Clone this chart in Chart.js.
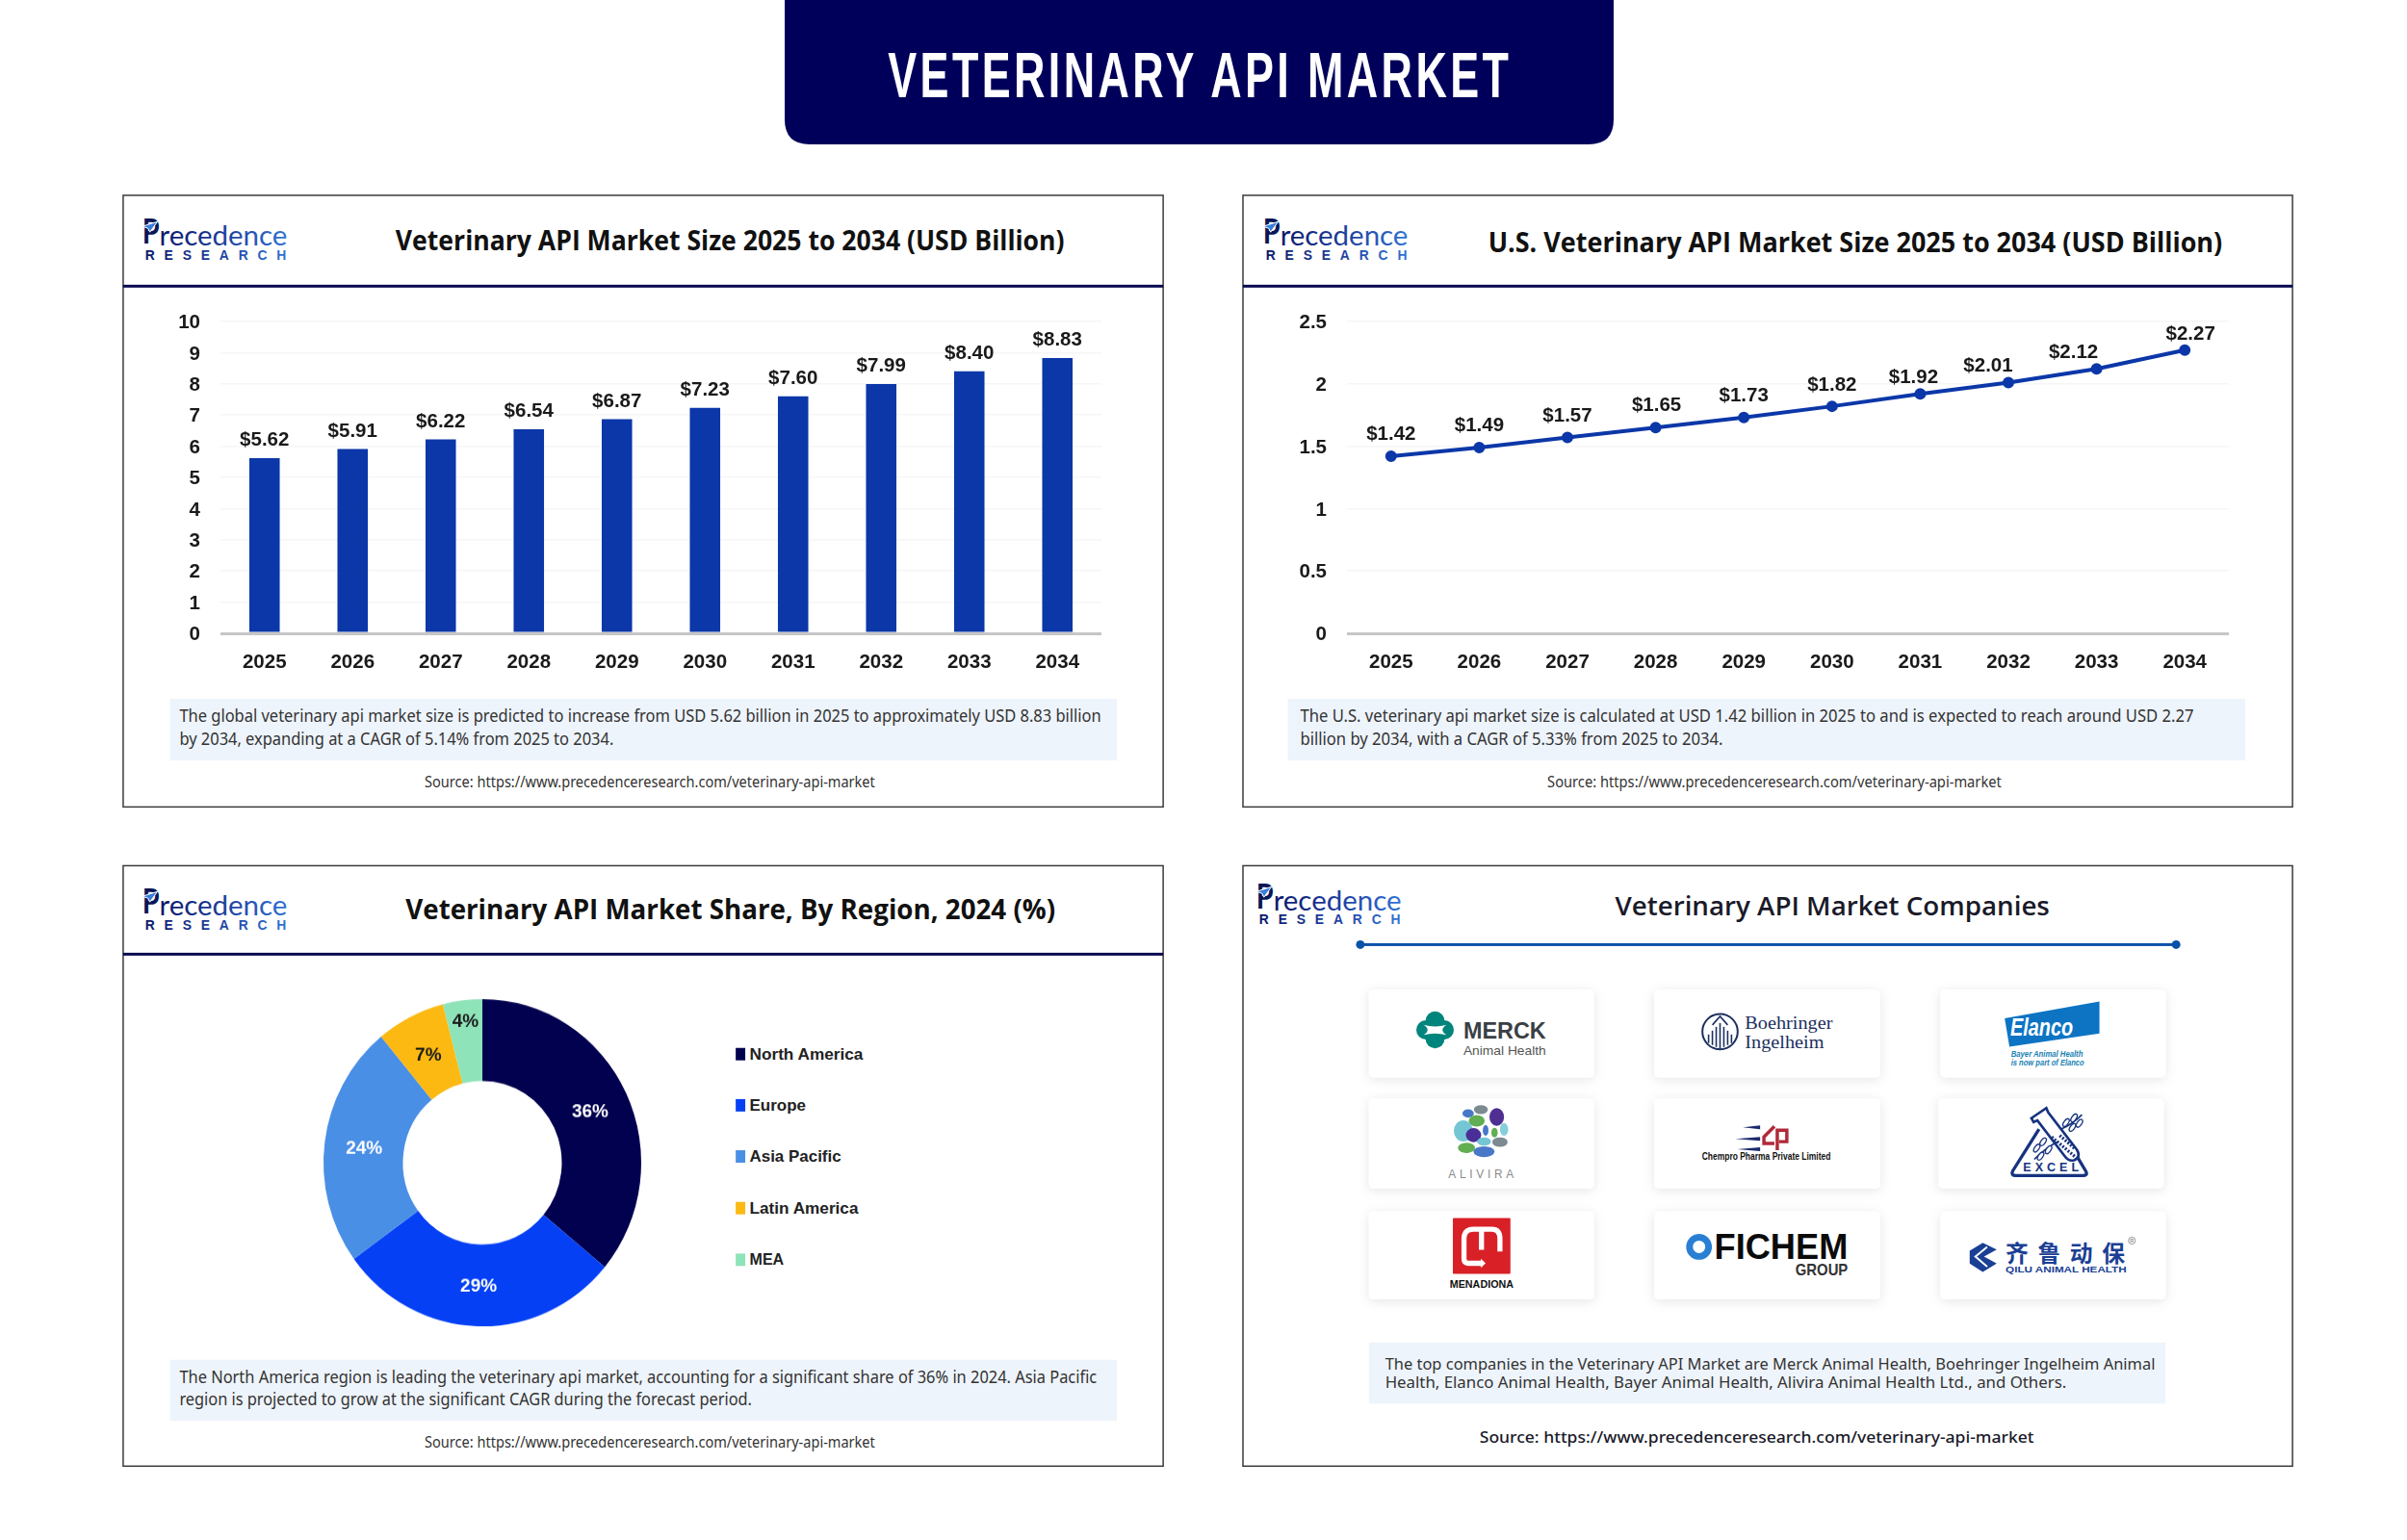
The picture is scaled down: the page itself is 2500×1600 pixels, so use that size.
<!DOCTYPE html>
<html>
<head>
<meta charset="utf-8">
<script src="https://cdn.jsdelivr.net/npm/chart.js@4"></script>
<style>
html,body{margin:0;padding:0;background:#fff;width:2500px;height:1600px;overflow:hidden}
canvas{position:absolute}
#art{position:absolute;left:0;top:0}
</style>
</head>
<body>
<svg id="art" width="2500" height="1600" viewBox="0 0 2500 1600" xmlns="http://www.w3.org/2000/svg"></svg>
<canvas id="barChart" width="1020" height="410" style="left:160px;top:310px"></canvas>
<canvas id="lineChart" width="1020" height="410" style="left:1330px;top:310px"></canvas>
<canvas id="donutChart" width="344" height="344" style="left:329px;top:1036px;transform:scaleY(1.03);transform-origin:center"></canvas>
<script>
// ---- data ----
const years = ['2025','2026','2027','2028','2029','2030','2031','2032','2033','2034'];
const globalSize = [5.62,5.91,6.22,6.54,6.87,7.23,7.60,7.99,8.40,8.83];
const usSize = [1.42,1.49,1.57,1.65,1.73,1.82,1.92,2.01,2.12,2.27];
const regions = ['North America','Europe','Asia Pacific','Latin America','MEA'];
const regionShare = [36,29,24,7,4];
const regionColors = ['#01014f','#0540f5','#4a8fe6','#fbb912','#8fe3b8'];
const regionLabelColors = ['#ffffff','#ffffff','#ffffff','#1a1a1a','#1a1a1a'];

// label nudges (px) relative to each mark
const lineLabelDx = [0,0,0,1,0,0,-7,-21,-24,6];
const lineLabelDy = [-23,-22.5,-22.5,-22.5,-22.5,-22,-16.5,-17.5,-16.5,-16.5];
const donutLabelDx = [0,0,0,0,-2];
const donutLabelDy = [1,1,1,2,-19];

const LABEL_FONT = 'bold 20.5px "Liberation Sans", Arial, sans-serif';
const INK = '#1a1a1a', BAR = '#0b37a8', BASE = '#c6c6c6', GRID = '#f6f6f6';

function money(v){ return '$' + v.toFixed(2); }
function drawLabels(id, textOf, dxOf, dyOf, colorOf, font){
  return { id, afterDatasetsDraw(chart){
    const c = chart.ctx, els = chart.getDatasetMeta(0).data, vals = chart.data.datasets[0].data;
    c.save(); c.font = font; c.textAlign = 'center'; c.textBaseline = 'middle';
    els.forEach((el,i)=>{
      const p = el.tooltipPosition();
      c.fillStyle = colorOf(i);
      c.fillText(textOf(vals[i]), p.x + dxOf(i), p.y + dyOf(i));
    });
    c.restore();
  }};
}
function noPad(s){ s.paddingTop=s.paddingBottom=s.paddingLeft=s.paddingRight=0; }
function axes(yMax, step, yW, xH){
  return {
    x:{ offset:true, grid:{display:false,drawTicks:false}, border:{display:false},
        ticks:{font:{family:'"Liberation Sans"',weight:'bold',size:20.5},color:INK,padding:18,maxRotation:0},
        afterFit(s){ s.height = xH; noPad(s); } },
    y:{ min:0,max:yMax, border:{display:false},
        grid:{drawTicks:false,
          color:c=>c.tick.value===0?BASE:GRID,
          lineWidth:c=>c.tick.value===0?3:1.5},
        ticks:{stepSize:step,font:{family:'"Liberation Sans"',weight:'bold',size:20.5},color:INK,padding:21,labelOffset:1.5,
          callback:v=>String(v)},
        afterFit(s){ s.width = yW; noPad(s); } }
  };
}
const base = {responsive:false,animation:false,
  plugins:{legend:{display:false},tooltip:{enabled:false}}};

new Chart(document.getElementById('barChart'),{
  type:'bar',
  data:{labels:years,datasets:[{data:globalSize,backgroundColor:BAR,categoryPercentage:1,barPercentage:0.345,borderWidth:0}]},
  options:{...base,layout:{autoPadding:false,padding:{top:24,right:36,left:0,bottom:0}},scales:axes(10,1,69,62)},
  plugins:[drawLabels('barLabels',money,()=>0,()=>-18.5,()=>INK,LABEL_FONT)]
});
new Chart(document.getElementById('lineChart'),{
  type:'line',
  data:{labels:years,datasets:[{data:usSize,borderColor:BAR,backgroundColor:BAR,borderWidth:4,pointRadius:4,pointHoverRadius:4,tension:0,fill:false}]},
  options:{...base,layout:{autoPadding:false,padding:{top:24,right:35,left:0,bottom:0}},scales:axes(2.5,0.5,69,62)},
  plugins:[drawLabels('lineLabels',money,i=>lineLabelDx[i],i=>lineLabelDy[i],()=>INK,LABEL_FONT)]
});
new Chart(document.getElementById('donutChart'),{
  type:'doughnut',
  data:{labels:regions,datasets:[{data:regionShare,backgroundColor:regionColors,borderWidth:0}]},
  options:{...base,cutout:'50%',layout:{autoPadding:false,padding:7}},
  plugins:[drawLabels('donutLabels',v=>v+'%',i=>donutLabelDx[i],i=>donutLabelDy[i],i=>regionLabelColors[i],'bold 19px "Liberation Sans", Arial, sans-serif')]
});

// ---- page furniture (real text in SVG) ----
const SANS='"Noto Sans"', HEAD='"Open Sans"', ARIAL='"Liberation Sans"';
function esc(s){return s.replace(/&/g,'&amp;').replace(/</g,'&lt;');}
function T(x,y,s,w,o={}){
  const a=`font-family='${o.f||SANS}' font-size='${o.s||18}' font-weight='${o.b||400}' fill='${o.c||"#333"}'`
    +(o.i?` font-style='italic'`:'')+(o.a?` text-anchor='${o.a}'`:'')+(o.ls?` letter-spacing='${o.ls}'`:'');
  const tl=w?` textLength='${w}' lengthAdjust='${o.adj||"spacingAndGlyphs"}'`:'';
  return `<text x='${x}' y='${y}' dominant-baseline='central' ${a}${tl}>${esc(s)}</text>`;
}
function R(x,y,w,h,fill,extra=''){return `<rect x='${x}' y='${y}' width='${w}' height='${h}' fill='${fill}' ${extra}/>`;}
function G(ox,oy,sx,sy,body){return `<g transform='translate(${ox} ${oy}) scale(${sx} ${sy}) translate(${-ox} ${-oy})'>${body}</g>`;}
function third(x,y,body){return `<g transform='translate(${x} ${y}) scale(.3333)'>${body}</g>`;}
const SX=.991, SY=.9937;
let svg=`<defs>
<linearGradient id='lg' x1='0' x2='1' y1='0' y2='0'><stop offset='0' stop-color='#0a1a6a'/><stop offset='.5' stop-color='#1c3f9c'/><stop offset='1' stop-color='#2f72d4'/></linearGradient>
<filter id='sh' x='-10%' y='-10%' width='120%' height='125%'><feDropShadow dx='0' dy='2' stdDeviation='6' flood-color='#000' flood-opacity='.10'/></filter>
</defs>`;

function logo(x,y1,y2){
  return T(x+1,y1-2,'P',18,{f:'Lato',s:37,b:700,c:'#0a1654'})
   + `<path d='M${x+1} ${y1-6} L${x+17} ${y1-11} L${x+9} ${y1} L${x+7} ${y1-4} Z' fill='#3a7fd8' stroke='#fff' stroke-width='1'/>`
   + T(x+19,y1+3,'recedence',134,{f:'Lato',s:29,c:'url(#lg)',b:400})
   + T(x+4,y2,'RESEARCH',148,{f:ARIAL,s:14,b:700,c:'url(#lg)',adj:'spacing'});
}
function panel(x,y,w,h,lineY){
  return `<rect x='${x}' y='${y}' width='${w}' height='${h}' fill='#fff' stroke='#3a3a3a' stroke-width='1.5'/>`
   + (lineY?R(x,lineY-1.5,w,3,'#0a0a50'):'');
}
// banner
svg+=`<path d='M815 0 H1676 V124 Q1676 150 1650 150 H841 Q815 150 815 124 Z' fill='#00005a'/>`;
svg+=G(800,0,.994,1,T(923,78,'VETERINARY API MARKET',652,{f:'"Liberation Sans Narrow", "Liberation Sans"',s:66,b:700,c:'#fff',ls:5}));

const NOTE='#eef4fb';
const SRC='Source: https://www.precedenceresearch.com/veterinary-api-market';
const TITLE={f:HEAD,s:29,b:700,c:'#111'};

// panel 1
let p=panel(128,203,1090,639.5,298)+logo(147,241.5,265);
p+=T(413.5,248.5,'Veterinary API Market Size 2025 to 2034 (USD Billion)',701,TITLE);
p+=R(177,729.5,992.5,64.5,NOTE);
p+=T(187,746.5,'The global veterinary api market size is predicted to increase from USD 5.62 billion in 2025 to approximately USD 8.83 billion',966,{s:17.5});
p+=T(187,770.5,'by 2034, expanding at a CAGR of 5.14% from 2025 to 2034.',455,{s:17.5});
p+=T(444,816.5,SRC,472,{s:15.5});
svg+=G(120,190,SX,SY,p);

// panel 2
p=panel(1291,203,1100,639.5,298)+logo(1311,241.5,265);
p+=T(1548,250.5,'U.S. Veterinary API Market Size 2025 to 2034 (USD Billion)',769.5,TITLE);
p+=R(1338,729.5,1003.5,64.5,NOTE);
p+=T(1351,746.5,'The U.S. veterinary api market size is calculated at USD 1.42 billion in 2025 to and is expected to reach around USD 2.27',936.5,{s:17.5});
p+=T(1351,770.5,'billion by 2034, with a CAGR of 5.33% from 2025 to 2034.',443,{s:17.5});
p+=T(1610,816.5,SRC,476,{s:15.5});
svg+=G(1290,190,SX,SY,p);

// panel 3
p=panel(128,899.5,1090,627.8,992)+logo(147,937.5,961);
p+=T(424,944,'Veterinary API Market Share, By Region, 2024 (%)',681,TITLE);
p+=R(177,1416,992.5,64,NOTE);
p+=T(187,1433,'The North America region is leading the veterinary api market, accounting for a significant share of 36% in 2024. Asia Pacific',961.5,{s:17.5});
p+=T(187,1456.5,'region is projected to grow at the significant CAGR during the forecast period.',600,{s:17.5});
p+=T(444,1502,SRC,472,{s:15.5});
const legendY=[1096.5,1150,1203.5,1257.5,1311.5], legendW=[119,59,96,114,36];
regions.forEach((r,i)=>{
  p+=R(770,legendY[i]-6.5,10,13,regionColors[i])+T(784.5,legendY[i],r,legendW[i],{f:ARIAL,s:17,b:700,c:'#222'});
});
svg+=G(120,890,SX,SY,p);

// panel 4
p=panel(1291,899.5,1100,627.8,0)+logo(1304,932.5,955.5);
p+=T(1681,941,'Veterinary API Market Companies',455.5,{f:HEAD,s:27.5,b:600,c:'#1a1a2a'});
p+=R(1423,1398,835,64,NOTE);
p+=T(1440,1420.5,'The top companies in the Veterinary API Market are Merck Animal Health, Boehringer Ingelheim Animal',807,{s:16});
p+=T(1440,1439.5,'Health, Elanco Animal Health, Bayer Animal Health, Alivira Animal Health Ltd., and Others.',714,{s:16});
p+=T(1539,1496,SRC,581,{s:17,b:500,c:'#1a1a2a'});
p+=R(1412,980.5,858,3,'#0a52a8')+`<circle cx='1414' cy='982' r='4.5' fill='#0a52a8'/><circle cx='2269' cy='982' r='4.5' fill='#0a52a8'/>`;
[[1423,1029,236,92],[1722,1029,237,92],[2022,1029,236,92],
 [1423,1143,236,94],[1722,1143,237,94],[2020,1143,236,94],
 [1423,1261,236,92],[1722,1261,237,92],[2022,1261,236,92]].forEach(c=>{
  p+=`<rect x='${c[0]}' y='${c[1]}' width='${c[2]}' height='${c[3]}' rx='5' fill='#fff' filter='url(#sh)'/>`;
});

// left column logos, drawn in crop-scale units
let L='';
// Merck
L+=`<g fill='#00857c'><circle cx='241' cy='92' r='30'/><circle cx='241' cy='148' r='30'/><circle cx='212' cy='120' r='30'/><circle cx='270' cy='120' r='30'/></g>`;
L+=`<path d='M205 104 Q241 114 277 104 Q252 120 277 136 Q241 126 205 136 Q230 120 205 104 Z' fill='#fff'/>`;
L+=T(330,120,'MERCK',260,{f:ARIAL,s:74,b:700,c:'#3a3f45'})+T(330,185,'Animal Health',260,{f:ARIAL,s:40,c:'#555'});
// Alivira
const pebbles=[[385,370,22,14,'#7d8a92'],[345,382,18,13,'#4a78c8'],[435,393,23,28,'#4f2f92'],[372,405,25,18,'#62ae52'],[330,437,30,33,'#74c6d4'],[362,450,24,22,'#4a2f98'],[400,435,9,17,'#4a78c8'],[428,442,10,15,'#62ae52'],[458,432,13,20,'#86cfd8'],[445,472,24,15,'#7d8a92'],[395,470,22,13,'#74c6d4'],[340,490,27,16,'#62ae52'],[395,502,33,17,'#4a78c8']];
pebbles.forEach(q=>{L+=`<ellipse cx='${q[0]}' cy='${q[1]}' rx='${q[2]}' ry='${q[3]}' fill='${q[4]}'/>`;});
L+=T(283,572,'ALIVIRA',205,{f:ARIAL,s:36,c:'#8a8a8a',adj:'spacing'});
// Menadiona
L+=`<rect x='297' y='710' width='181' height='175' rx='3' fill='#d92027'/>`;
L+=`<path d='M390 852 H345 Q332 852 332 838 V775 Q332 745 362 745 H420 Q445 745 445 775 V815 M387 748 V810' fill='none' stroke='#fff' stroke-width='16'/>`;
L+=`<path d='M385 838 L400 852 L385 866 Z' fill='#fff'/>`;
L+=T(287,916,'MENADIONA',201,{f:ARIAL,s:32,b:700,c:'#111'});
p+=third(1412,1031.2,L);

// Boehringer
p+=`<circle cx='1791' cy='1073' r='18.5' fill='none' stroke='#1c2f5f' stroke-width='2'/>`;
[-12,-8,-4,0,4,8,12].forEach(d=>{p+=`<line x1='${1791+d}' x2='${1791+d}' y1='${1091-Math.abs(d)/2}' y2='${1064+Math.abs(d)}' stroke='#1c2f5f' stroke-width='1.6'/>`;});
p+=`<path d='M1783 1066 L1791 1057 L1799 1066' fill='none' stroke='#1c2f5f' stroke-width='1.6'/>`;
p+=T(1817,1064,'Boehringer',92,{f:'"Liberation Serif"',s:19.5,c:'#1c2f5f'})+T(1817,1084,'Ingelheim',83,{f:'"Liberation Serif"',s:19.5,c:'#1c2f5f'});
// Chempro
[[1172,18],[1184,26],[1195,24]].forEach(a=>{p+=`<path d='M${1833-a[1]} ${a[0]+1} L1833 ${a[0]-1} V${a[0]+3} Z' fill='#1a2a6a'/>`;});
p+=`<path d='M1848 1172 L1837 1183 V1190 H1848 M1851 1197 V1176 H1861 V1188 H1853' fill='none' stroke='#b02a3a' stroke-width='3.5'/>`;
p+=T(1772,1203,'Chempro Pharma Private Limited',135,{f:ARIAL,s:10.5,b:700,c:'#111'});
// Fichem
p+=`<circle cx='1769' cy='1298' r='10' fill='none' stroke='#2a7fd4' stroke-width='7'/>`;
p+=T(1785,1298,'FICHEM',140,{f:ARIAL,s:37,b:700,c:'#0b0b0b'})+T(1870,1322,'GROUP',55,{f:ARIAL,s:16,b:700,c:'#333'});

// right column logos, drawn in crop-scale units
let Q='';
// Elanco
Q+=`<path d='M247 83 L545 30 V130 L262 172 Z' fill='#0d74c4'/>`;
Q+=T(265,110,'Elanco',197,{f:ARIAL,s:76,b:700,i:1,c:'#fff'});
Q+=T(267,195,'Bayer Animal Health',226,{f:ARIAL,s:26,b:700,i:1,c:'#1a82b4'})+T(267,222,'is now part of Elanco',230,{f:ARIAL,s:26,b:700,i:1,c:'#1a82b4'});
// Excel
const EX='#16337f';
Q+=`<path d='M355 430 L272 562 Q266 576 282 576 H492 Q510 576 502 562 L465 500' fill='none' stroke='${EX}' stroke-width='10'/>`;
Q+=`<path d='M331 396 L378 364 L384 378 L474 495 Q488 518 465 528 Q448 532 436 515 L350 403 L338 408 Z' fill='#fff' stroke='${EX}' stroke-width='8'/>`;
Q+=`<path d='M395 455 L472 520 M420 450 L468 492' stroke='${EX}' stroke-width='10' stroke-dasharray='6 5' fill='none'/>`;
Q+=`<path d='M340 525 Q370 495 412 470 M425 430 Q460 415 490 385' fill='none' stroke='${EX}' stroke-width='5'/>`;
[[348,490],[368,470],[360,515],[385,495],[440,410],[465,395],[460,425],[482,412]].forEach(l=>{Q+=`<ellipse cx='${l[0]}' cy='${l[1]}' rx='7' ry='14' transform='rotate(35 ${l[0]} ${l[1]})' fill='#fff' stroke='${EX}' stroke-width='4'/>`;});
Q+=T(305,550,'EXCEL',175,{f:ARIAL,s:38,b:700,c:EX,adj:'spacing'});
// Qilu
Q+=`<path d='M178 787 L137 812 V852 L178 878 L222 852 L182 830 L222 808 Z' fill='#1a3f94'/><path d='M192 800 L155 830 L192 862' fill='none' stroke='#fff' stroke-width='6'/>`;
Q+=T(250,815,'齐鲁动保',375,{f:'"Noto Sans CJK SC"',s:72,b:700,c:'#1a3f94',adj:'spacing'});
Q+=T(250,870,'QILU ANIMAL HEALTH',380,{f:ARIAL,s:30,b:700,c:'#1a3f94'});
Q+=`<circle cx='647' cy='780' r='11' fill='none' stroke='#666' stroke-width='2'/>`+T(641,780,'R',12,{f:ARIAL,s:16,c:'#666'});
p+=third(2007,1031.5,Q);
svg+=G(1290,890,SX,SY,p);
document.getElementById('art').innerHTML=svg;
</script>
</body>
</html>
